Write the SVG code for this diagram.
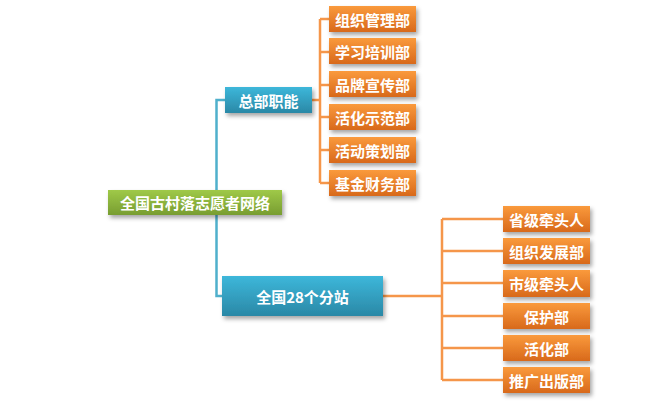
<svg xmlns="http://www.w3.org/2000/svg" width="671" height="408" viewBox="0 0 671 408">
<defs>
<linearGradient id="gOr" x1="0" y1="0" x2="0" y2="1"><stop offset="0" stop-color="#fa9a3c"/><stop offset="1" stop-color="#d8691b"/></linearGradient>
<linearGradient id="gBl" x1="0" y1="0" x2="0" y2="1"><stop offset="0" stop-color="#3db7da"/><stop offset="1" stop-color="#2a88a6"/></linearGradient>
<linearGradient id="gGr" x1="0" y1="0" x2="0" y2="1"><stop offset="0" stop-color="#9fc948"/><stop offset="1" stop-color="#789d31"/></linearGradient>
<filter id="sh" x="-10%" y="-20%" width="125%" height="160%"><feDropShadow dx="2" dy="3" stdDeviation="2" flood-color="#000" flood-opacity="0.35"/></filter>
</defs>
<style>
text{font-family:"Noto Sans CJK SC","Noto Sans",sans-serif;font-weight:bold;fill:#fff;font-size:15px;text-anchor:middle;dominant-baseline:central}
.or{fill:url(#gOr);filter:url(#sh)}
.bl{fill:url(#gBl);filter:url(#sh)}
.gr{fill:url(#gGr);filter:url(#sh)}
.lb{fill:none;stroke:#4fb0cc;stroke-width:2.5}
.lo{fill:none;stroke:#f5964a;stroke-width:2.5}
</style>
<rect width="671" height="408" fill="#fff"/>
<g id="connectors">
<path class="lb" d="M225 100 H216.5 V296 H222"/>
<path class="lo" d="M312 100 H320 M320 19 V183 M320 19 H329 M320 52 H329 M320 85 H329 M320 117 H329 M320 150 H329 M320 183 H329"/>
<path class="lo" d="M383 296 H442 M442 219 V380 M442 219 H503 M442 251 H503 M442 283 H503 M442 316 H503 M442 348 H503 M442 380 H503"/>
</g>
<g id="root"><rect class="gr" x="108" y="190" width="174" height="25"/><text x="195" y="202.5">全国古村落志愿者网络</text></g>
<g id="hq"><rect class="bl" x="225" y="87" width="87" height="26"/><text x="268.5" y="100">总部职能</text></g>
<g id="branch"><rect class="bl" x="222" y="276" width="161" height="40"/><text x="302.5" y="296">全国28个分站</text></g>
<g id="t1"><rect class="or" x="329" y="6" width="87" height="26"/><text x="372.5" y="19">组织管理部</text></g>
<g id="t2"><rect class="or" x="329" y="38" width="87" height="26"/><text x="372.5" y="51">学习培训部</text></g>
<g id="t3"><rect class="or" x="329" y="71" width="87" height="26"/><text x="372.5" y="84">品牌宣传部</text></g>
<g id="t4"><rect class="or" x="329" y="104" width="87" height="26"/><text x="372.5" y="117">活化示范部</text></g>
<g id="t5"><rect class="or" x="329" y="137" width="87" height="26"/><text x="372.5" y="150">活动策划部</text></g>
<g id="t6"><rect class="or" x="329" y="170" width="87" height="26"/><text x="372.5" y="183">基金财务部</text></g>
<g id="b1"><rect class="or" x="503" y="206" width="87" height="26"/><text x="546.5" y="219">省级牵头人</text></g>
<g id="b2"><rect class="or" x="503" y="238" width="87" height="26"/><text x="546.5" y="251">组织发展部</text></g>
<g id="b3"><rect class="or" x="503" y="270" width="87" height="27"/><text x="546.5" y="283">市级牵头人</text></g>
<g id="b4"><rect class="or" x="503" y="303" width="87" height="26"/><text x="546.5" y="316">保护部</text></g>
<g id="b5"><rect class="or" x="503" y="335" width="87" height="26"/><text x="546.5" y="348">活化部</text></g>
<g id="b6"><rect class="or" x="503" y="367" width="87" height="26"/><text x="546.5" y="380">推广出版部</text></g>
</svg>
